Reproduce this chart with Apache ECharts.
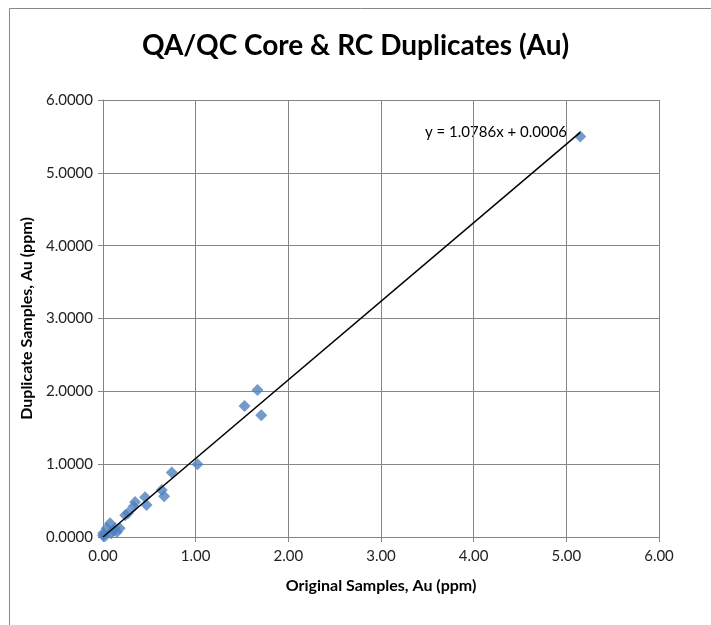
<!DOCTYPE html>
<html>
<head>
<meta charset="utf-8">
<script src="https://cdn.jsdelivr.net/npm/echarts@6/dist/echarts.min.js"></script>
<style>
html,body{margin:0;padding:0;background:#fff;}
#chart{width:711px;height:625px;}
</style>
</head>
<body>
<div id="chart"></div>
<script>
// Original sample values (x) and duplicate sample values (y), ppm Au
var originalAu = [5.15, 1.667, 1.527, 1.708, 1.02, 0.742, 0.634, 0.66, 0.454, 0.47, 0.346, 0.33, 0.27, 0.24, 0.076, 0.13, 0.18, 0.04, 0.003, 0.0, 0.09, 0.15, 0.02, 0.11];
var duplicateAu = [5.50, 2.02, 1.80, 1.67, 1.00, 0.885, 0.645, 0.56, 0.545, 0.44, 0.48, 0.42, 0.33, 0.30, 0.19, 0.12, 0.12, 0.12, 0.05, 0.02, 0.05, 0.07, 0.01, 0.09];
// Linear trendline parameters
var slope = 1.0786;
var intercept = 0.0006;
var xTicks = [0, 1, 2, 3, 4, 5, 6];
var yTicks = [0, 1, 2, 3, 4, 5, 6];

var points = originalAu.map(function (x, i) { return [x, duplicateAu[i]]; });
var xMax = Math.max.apply(null, originalAu);
var xMin = Math.min.apply(null, originalAu);
var trend = [[xMin, slope * xMin + intercept], [xMax, slope * xMax + intercept]];

var FONT = 'Lato';
var chart = echarts.init(document.getElementById('chart'));
chart.setOption({
  animation: false,
  backgroundColor: '#ffffff',
  title: {
    text: 'QA/QC Core & RC Duplicates (Au)',
    left: 'center',
    top: 27,
    textStyle: { fontFamily: FONT, fontWeight: 'bold', fontSize: 28, color: '#000' }
  },
  grid: { left: 103, right: 52, top: 100, bottom: 88 },
  xAxis: {
    type: 'value',
    min: xTicks[0], max: xTicks[xTicks.length - 1], interval: 1,
    name: 'Original Samples, Au (ppm)',
    nameLocation: 'middle', nameGap: 41,
    nameTextStyle: { fontFamily: FONT, fontWeight: 'bold', fontSize: 16, color: '#000' },
    axisLine: { show: true, lineStyle: { color: '#868686', width: 1 } },
    axisTick: { show: true, length: 5, lineStyle: { color: '#868686' } },
    splitLine: { show: true, lineStyle: { color: '#868686', width: 1 } },
    axisLabel: { fontFamily: FONT, fontSize: 15, color: '#222', margin: 12,
      formatter: function (v) { return v.toFixed(2); } }
  },
  yAxis: {
    type: 'value',
    min: yTicks[0], max: yTicks[yTicks.length - 1], interval: 1,
    name: 'Duplicate Samples, Au (ppm)',
    nameLocation: 'middle', nameGap: 58, nameRotate: 90,
    nameTextStyle: { fontFamily: FONT, fontWeight: 'bold', fontSize: 16, color: '#000' },
    axisLine: { show: true, lineStyle: { color: '#868686', width: 1 } },
    axisTick: { show: true, length: 5, lineStyle: { color: '#868686' } },
    splitLine: { show: true, lineStyle: { color: '#868686', width: 1 } },
    axisLabel: { fontFamily: FONT, fontSize: 15, color: '#222', margin: 10,
      formatter: function (v) { return v.toFixed(4); } }
  },
  graphic: [
    { type: 'rect', silent: true, z: -10,
      shape: { x: 9.5, y: 8.5, width: 900, height: 900 },
      style: { fill: 'none', stroke: '#888888', lineWidth: 1 } },
    { type: 'text', x: 425, y: 132,
      style: { text: 'y = 1.0786x + 0.0006', fontFamily: FONT, fontSize: 15, fill: '#000',
        textVerticalAlign: 'middle', verticalAlign: 'middle' } }
  ],
  series: [
    {
      type: 'scatter',
      data: points,
      symbol: 'diamond',
      symbolSize: 12,
      itemStyle: { color: '#4F81BD' },
      z: 3
    },
    {
      type: 'line',
      data: trend,
      symbol: 'none',
      lineStyle: { color: '#000', width: 1.5 },
      z: 4
    }
  ]
});
</script>
</body>
</html>
